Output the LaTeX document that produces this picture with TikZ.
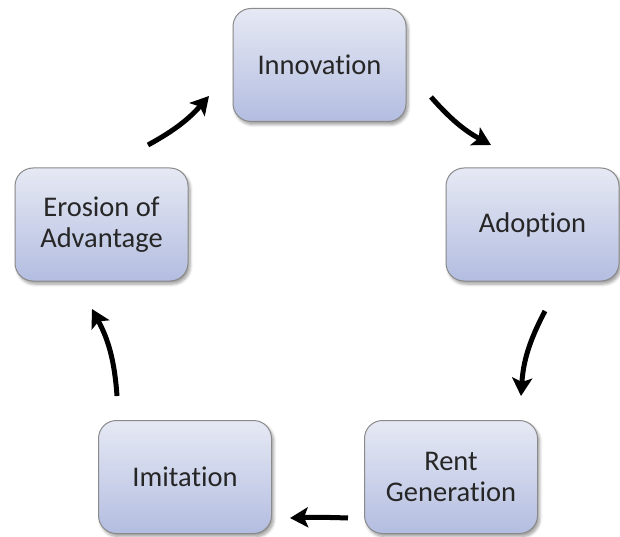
\documentclass[tikz,border=0pt]{standalone}
\usepackage{fontspec}
\setmainfont[Ligatures={NoCommon},RawFeature={-liga;-dlig;-clig}]{Carlito}
\usetikzlibrary{arrows.meta,shadows.blur}
\definecolor{boxtop}{HTML}{E6E9F4}
\definecolor{boxbot}{HTML}{B3BDE0}
\definecolor{boxline}{HTML}{8A8A8A}
\tikzset{
  stage/.style={rectangle, rounded corners=18pt, draw=boxline, line width=1pt,
    top color=boxtop, bottom color=boxbot,
    minimum width=173pt, minimum height=113pt, inner sep=0pt,
    align=center, font=\fontsize{28.5}{31}\selectfont, text=black!85,
    blur shadow={shadow xshift=2pt, shadow yshift=-3pt, shadow blur steps=6, shadow blur radius=3pt, shadow opacity=40}},
  arr/.style={line width=5pt, -{Stealth[length=18pt,width=20pt,inset=4pt]}}
}
\begin{document}
\begin{tikzpicture}[x=1pt,y=-1pt]
\useasboundingbox (0,0) rectangle (620,537);
\node[stage] (inn) at (319.5,65) {Innovation};
\node[stage] (ado) at (532.5,224.5) {Adoption};
\node[stage] (ren) at (451,477) {Rent\\Generation};
\node[stage] (imi) at (185,477) {Imitation};
\node[stage] (ero) at (101.5,224.5) {Erosion of\\Advantage};
\coordinate (a1) at (431,97);
\coordinate (b1) at (491,145);
\coordinate (a2) at (545,311);
\coordinate (b2) at (521,396);
\coordinate (a3) at (348,518);
\coordinate (b3) at (290,518);
\coordinate (a4) at (117,396);
\coordinate (b4) at (92,309);
\coordinate (a5) at (148,145);
\coordinate (b5) at (209,96);
\draw[arr] (a1) to[bend right=10] (b1);
\draw[arr] (a2) to[bend right=12] (b2);
\draw[arr] (a3) to[bend right=2] (b3);
\draw[arr] (a4) to[bend right=12] (b4);
\draw[arr] (a5) to[bend right=10] (b5);
\end{tikzpicture}
\end{document}
